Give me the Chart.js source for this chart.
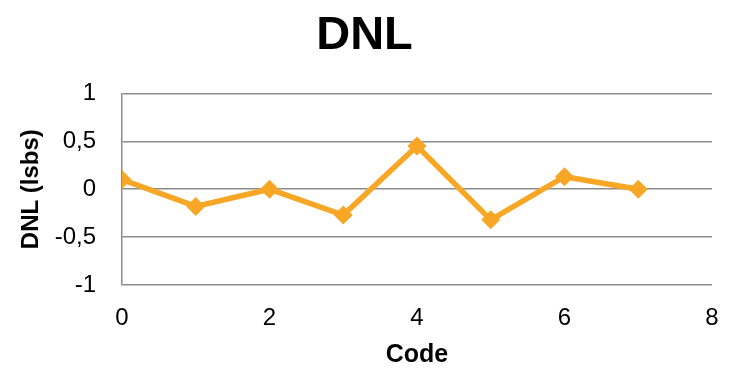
<!DOCTYPE html>
<html lang="en">
<head>
    <meta charset="UTF-8">
    <title>DNL</title>
    <style>
      body { margin: 0; background: #fff; }
    </style>
</head>
<body>
    <canvas id="dnlChart" width="732" height="377"></canvas>

<script src="https://cdn.jsdelivr.net/npm/chart.js"></script>
<script>
  // values
  const codes = [0, 1, 2, 3, 4, 5, 6, 7];
  const dnl = [0.1, -0.18, 0.0, -0.27, 0.45, -0.32, 0.13, 0.0];
  const xTicks = [0, 2, 4, 6, 8];
  const yTicks = [-1, -0.5, 0, 0.5, 1];

  const orange = '#F7A725';
  const gridGray = '#8c8c8c';
  const fontFamily = '"Liberation Sans", Arial, sans-serif';

  const points = codes.map((c, i) => ({ x: c, y: dnl[i] }));
  const commaFmt = v => String(v).replace('.', ',');

  const ctx = document.getElementById('dnlChart').getContext('2d');
  const dnlChart = new Chart(ctx, {
    type: 'scatter',
    data: {
      datasets: [{
        label: 'DNL',
        data: points,
        showLine: true,
        borderColor: orange,
        backgroundColor: orange,
        borderWidth: 5.5,
        pointStyle: 'rectRot',
        pointRadius: 9.5,
        pointBorderWidth: 0,
        tension: 0
      }]
    },
    options: {
      responsive: false,
      animation: false,
      layout: { padding: { left: 17, right: 20, top: 0, bottom: 0 } },
      plugins: {
        legend: { display: false },
        tooltip: { enabled: false },
        title: {
          display: true,
          text: 'DNL',
          color: '#000',
          font: { family: fontFamily, size: 47, weight: 'bold' },
          padding: { top: 8, bottom: 29 }
        }
      },
      scales: {
        x: {
          type: 'linear',
          min: xTicks[0],
          max: xTicks[xTicks.length - 1],
          afterBuildTicks: s => { s.ticks = xTicks.map(v => ({ value: v })); },
          afterFit: s => { s.height = 92; s.paddingRight = 0; s.paddingLeft = 0; },
          grid: { display: false, drawTicks: false },
          border: { display: false },
          ticks: {
            color: '#000',
            padding: 19,
            font: { family: fontFamily, size: 24 },
            callback: commaFmt
          },
          title: {
            display: true,
            text: 'Code',
            color: '#000',
            font: { family: fontFamily, size: 25, weight: 'bold' },
            padding: { top: 0, bottom: 7 }
          }
        },
        y: {
          min: yTicks[0],
          max: yTicks[yTicks.length - 1],
          afterBuildTicks: s => { s.ticks = yTicks.map(v => ({ value: v })); },
          afterFit: s => { s.width = 105; },
          grid: { color: gridGray, lineWidth: 1.5, drawTicks: false },
          border: { display: true, color: gridGray, width: 1.5 },
          ticks: {
            color: '#000',
            padding: 26,
            font: { family: fontFamily, size: 24 },
            callback: commaFmt
          },
          title: {
            display: true,
            text: 'DNL (lsbs)',
            color: '#000',
            font: { family: fontFamily, size: 24, weight: 'bold' },
            padding: { top: 0, bottom: 0 }
          }
        }
      }
    }
  });
</script>

</body>
</html>
